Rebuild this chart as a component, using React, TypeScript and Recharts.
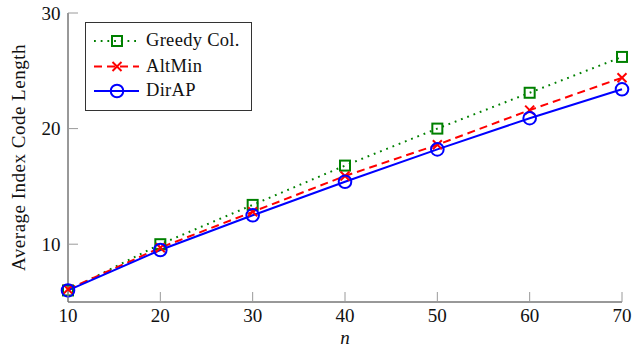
import React from 'react';
import { LineChart, Line, XAxis, YAxis, Legend } from 'recharts';

const nValues = [10, 20, 30, 40, 50, 60, 70];
const greedyCol = [6.0, 10.0, 13.4, 16.8, 20.0, 23.1, 26.2];
const altMin = [6.1, 9.7, 12.8, 15.9, 18.6, 21.6, 24.4];
const dirAP = [6.0, 9.5, 12.5, 15.4, 18.2, 20.9, 23.4];
const xTicks = [10, 20, 30, 40, 50, 60, 70];
const yTicks = [10, 20, 30];

const data = nValues.map((n, i) => ({ n, greedy: greedyCol[i], altmin: altMin[i], dirap: dirAP[i] }));

const FONT = '"Liberation Serif", "Times New Roman", serif';
const TICK_COLOR = '#9a9a9a';
const AXIS_COLOR = '#333';
const TICK_LEN = 10;
const SW = 2;

type Marker = 'square' | 'cross' | 'circle';

const series: { key: string; name: string; color: string; dash?: string; marker: Marker }[] = [
  { key: 'greedy', name: 'Greedy Col.', color: '#008000', dash: '1.8 4.9', marker: 'square' },
  { key: 'altmin', name: 'AltMin', color: '#ff0000', dash: '8 5', marker: 'cross' },
  { key: 'dirap', name: 'DirAP', color: '#0000ff', marker: 'circle' },
];

function renderMarker(marker: Marker, cx: number, cy: number, color: string, key?: any) {
  if (marker === 'square') {
    return <rect key={key} x={cx - 5} y={cy - 5} width={10} height={10} fill="none" stroke={color} strokeWidth={SW} />;
  }
  if (marker === 'cross') {
    return (
      <g key={key}>
        <line x1={cx - 4.5} y1={cy - 4.5} x2={cx + 4.5} y2={cy + 4.5} stroke={color} strokeWidth={SW} />
        <line x1={cx - 4.5} y1={cy + 4.5} x2={cx + 4.5} y2={cy - 4.5} stroke={color} strokeWidth={SW} />
      </g>
    );
  }
  return <circle key={key} cx={cx} cy={cy} r={6.3} fill="none" stroke={color} strokeWidth={SW} />;
}

const BottomTick = (props: any) => {
  const { x, y, payload } = props;
  return (
    <g>
      <line x1={x} y1={y} x2={x} y2={y - TICK_LEN} stroke={TICK_COLOR} strokeWidth={1} />
      <text x={x} y={y + 20} textAnchor="middle" fontFamily={FONT} fontSize={19} fill="#111">
        {payload.value}
      </text>
    </g>
  );
};

const LeftTick = (props: any) => {
  const { x, y, payload } = props;
  return (
    <g>
      <line x1={x} y1={y} x2={x + TICK_LEN} y2={y} stroke={TICK_COLOR} strokeWidth={1} />
      <text x={x - 7.5} y={y + 6.5} textAnchor="end" fontFamily={FONT} fontSize={19} fill="#111">
        {payload.value}
      </text>
    </g>
  );
};

const TopTick = (props: any) => {
  const { x, y } = props;
  return <line x1={x} y1={y} x2={x} y2={y + TICK_LEN} stroke={TICK_COLOR} strokeWidth={1} />;
};

const RightTick = (props: any) => {
  const { x, y } = props;
  return <line x1={x} y1={y} x2={x - TICK_LEN} y2={y} stroke={TICK_COLOR} strokeWidth={1} />;
};

const LegendBox = () => {
  const rows = [19, 44.5, 69];
  return (
    <div
      style={{
        width: 167,
        height: 89,
        border: '1px solid #333',
        background: '#fff',
        boxSizing: 'border-box',
      }}
    >
      <svg width={165} height={87} style={{ display: 'block' }}>
        {series.map((s, i) => {
          const cy = rows[i] - 1;
          return (
            <g key={s.key}>
              <line x1={8} y1={cy} x2={53} y2={cy} stroke={s.color} strokeWidth={SW} strokeDasharray={s.dash} />
              {renderMarker(s.marker, 31, cy, s.color)}
              <text x={60} y={cy + 5} fontFamily={FONT} fontSize={18.5} letterSpacing={0.3} fill="#111">
                {s.name}
              </text>
            </g>
          );
        })}
      </svg>
    </div>
  );
};

export default function App() {
  return (
    <div style={{ position: 'absolute', left: 0, top: 0, background: '#fff' }}>
      <LineChart width={633} height={347} data={data} margin={{ top: 13, right: 11, left: 0, bottom: 0 }}>
        <XAxis
          dataKey="n"
          type="number"
          domain={[10, 70]}
          ticks={xTicks}
          height={45}
          tickSize={0}
          tickMargin={0}
          tickLine={false}
          stroke={AXIS_COLOR}
          tick={BottomTick}
          interval={0}
          label={(props: any) => {
            const vb = props.viewBox;
            return (
              <text x={vb.x + vb.width / 2} y={vb.y + 42} textAnchor="middle" fontFamily={FONT} fontStyle="italic" fontSize={19} fill="#111">
                n
              </text>
            );
          }}
        />
        <XAxis
          xAxisId="top"
          dataKey="n"
          type="number"
          orientation="top"
          domain={[10, 70]}
          ticks={xTicks}
          height={0}
          tickSize={0}
          tickMargin={0}
          tickLine={false}
          stroke={AXIS_COLOR}
          tick={TopTick}
          interval={0}
        />
        <YAxis
          type="number"
          domain={[5, 30]}
          ticks={yTicks}
          width={68}
          tickSize={0}
          tickMargin={0}
          tickLine={false}
          stroke={AXIS_COLOR}
          tick={LeftTick}
          interval={0}
          label={() => {
            const cy = 157.5;
            const cx = 24.5;
            return (
              <text x={cx} y={cy} transform={`rotate(-90, ${cx}, ${cy})`} textAnchor="middle" fontFamily={FONT} fontSize={19} letterSpacing={0.5} fill="#111">
                Average Index Code Length
              </text>
            );
          }}
        />
        <YAxis
          yAxisId="right"
          type="number"
          orientation="right"
          domain={[5, 30]}
          ticks={yTicks}
          width={0}
          tickSize={0}
          tickMargin={0}
          tickLine={false}
          stroke="#000"
          tick={RightTick}
          interval={0}
        />
        {series.map((s) => (
          <Line
            key={s.key}
            dataKey={s.key}
            name={s.name}
            stroke={s.color}
            strokeWidth={SW}
            strokeDasharray={s.dash}
            isAnimationActive={false}
            type="linear"
            dot={(p: any) => renderMarker(s.marker, p.cx, p.cy, s.color, `${s.key}-${p.index}`)}
            activeDot={false}
          />
        ))}
        <Legend
          layout="vertical"
          align="center"
          verticalAlign="middle"
          content={() => <LegendBox />}
          wrapperStyle={{ position: 'absolute', left: 85, top: 22, width: 167, height: 89 }}
        />
      </LineChart>
    </div>
  );
}
